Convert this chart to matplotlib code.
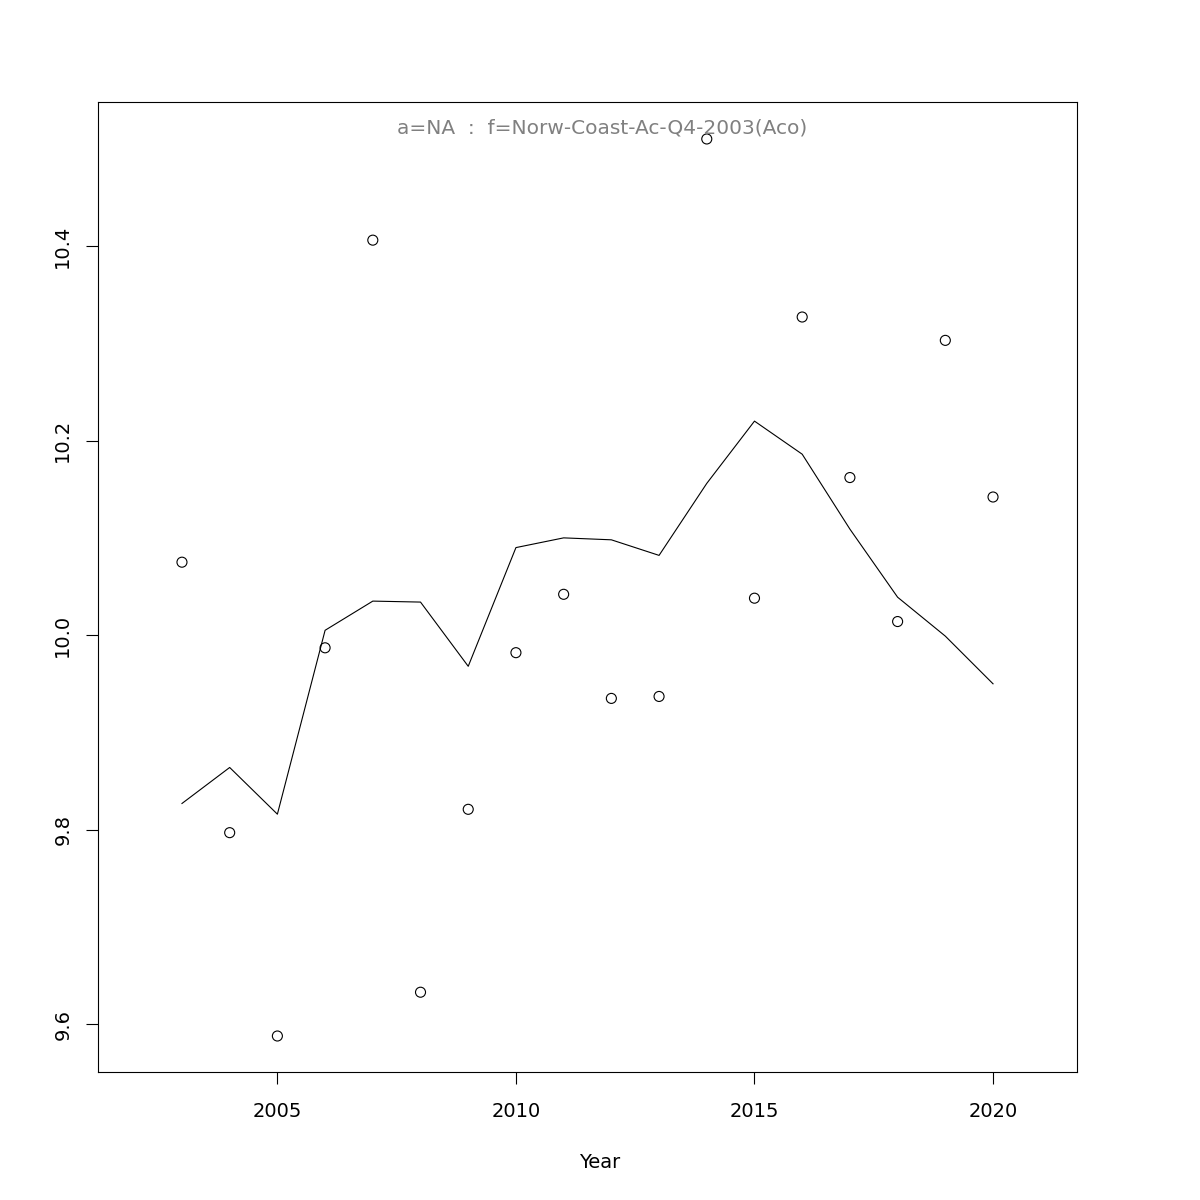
import matplotlib
matplotlib.use("Agg")
import matplotlib.pyplot as plt

years = list(range(2003, 2021))
observed = [10.075, 9.797, 9.588, 9.987, 10.406, 9.633, 9.821, 9.982, 10.042,
            9.935, 9.937, 10.510, 10.038, 10.327, 10.162, 10.014, 10.303, 10.142]
fitted = [9.827, 9.864, 9.816, 10.005, 10.035, 10.034, 9.968, 10.090, 10.100,
          10.098, 10.082, 10.156, 10.220, 10.186, 10.109, 10.039, 9.999, 9.950]
xticks = [2005, 2010, 2015, 2020]
yticks = [9.6, 9.8, 10.0, 10.2, 10.4]
title = "a=NA  :  f=Norw-Coast-Ac-Q4-2003(Aco)"

fig = plt.figure(figsize=(12, 12), dpi=100)
ax = fig.add_axes([98/1200, 1 - 1072/1200, (1077-98)/1200, (1072-102)/1200])
ax.plot(years, fitted, color="black", linewidth=0.8)
ax.scatter(years, observed, s=52, facecolors="none", edgecolors="black", linewidths=0.8)
ax.set_xlim(2001.24, 2021.76)
ax.set_ylim(9.551, 10.548)
ax.set_xticks(xticks)
ax.set_xticklabels([str(t) for t in xticks])
ax.set_yticks(yticks)
ax.set_yticklabels([f"{t:.1f}" for t in yticks], rotation=90, va="center")
ax.tick_params(direction="out", length=8.5, width=0.8, labelsize=14)
ax.tick_params(axis="x", pad=13)
ax.tick_params(axis="y", pad=10)
for s in ax.spines.values():
    s.set_linewidth(0.8)
fig.text(0.5, 1 - 1162/1200, "Year", ha="center", va="center", fontsize=14)
fig.text(0.502, 1 - 128/1200, title, ha="center", va="center",
         color="grey", fontsize=14.5)
fig.savefig("out.png", dpi=100)
